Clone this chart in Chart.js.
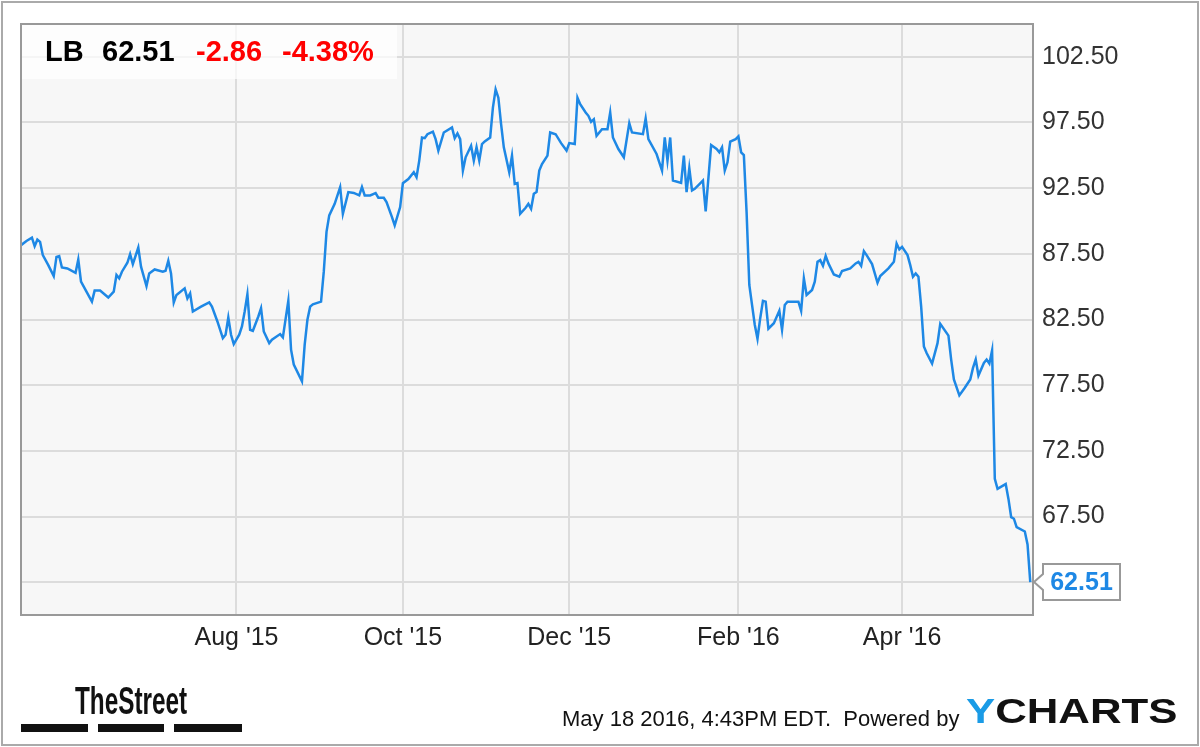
<!DOCTYPE html>
<html>
<head>
<meta charset="utf-8">
<title>LB price chart</title>
<script src="https://cdn.jsdelivr.net/npm/chart.js@4.4.1/dist/chart.umd.min.js"></script>
<style>
  html, body { margin: 0; padding: 0; background: #fff; }
  #wrap { width: 1200px; height: 747px; }
</style>
</head>
<body>
<div id="wrap"><canvas id="c" width="1200" height="747"></canvas></div>
<script>
// LB daily close (May 2015 - May 2016)
const dates = [
  '2015-05-14','2015-05-16','2015-05-18','2015-05-19','2015-05-20','2015-05-21','2015-05-22','2015-05-24','2015-05-26','2015-05-27',
  '2015-05-28','2015-05-29','2015-05-31','2015-06-03','2015-06-04','2015-06-05','2015-06-07','2015-06-09','2015-06-10','2015-06-12',
  '2015-06-15','2015-06-17','2015-06-18','2015-06-19','2015-06-20','2015-06-22','2015-06-23','2015-06-24','2015-06-26','2015-06-27',
  '2015-06-29','2015-06-30','2015-07-02','2015-07-05','2015-07-06','2015-07-07','2015-07-08','2015-07-09','2015-07-10','2015-07-13',
  '2015-07-14','2015-07-15','2015-07-16','2015-07-19','2015-07-22','2015-07-23','2015-07-25','2015-07-27','2015-07-28','2015-07-29',
  '2015-07-30','2015-07-31','2015-08-02','2015-08-03','2015-08-04','2015-08-05','2015-08-06','2015-08-07','2015-08-09','2015-08-10',
  '2015-08-11','2015-08-13','2015-08-14','2015-08-17','2015-08-18','2015-08-20','2015-08-21','2015-08-22','2015-08-25','2015-08-26',
  '2015-08-27','2015-08-28','2015-08-29','2015-09-01','2015-09-02','2015-09-03','2015-09-04','2015-09-06','2015-09-08','2015-09-09',
  '2015-09-11','2015-09-13','2015-09-15','2015-09-16','2015-09-17','2015-09-19','2015-09-21','2015-09-22','2015-09-24','2015-09-25',
  '2015-09-27','2015-09-28','2015-09-30','2015-10-01','2015-10-03','2015-10-05','2015-10-06','2015-10-07','2015-10-08','2015-10-09',
  '2015-10-10','2015-10-12','2015-10-13','2015-10-14','2015-10-16','2015-10-19','2015-10-20','2015-10-21','2015-10-22','2015-10-23',
  '2015-10-24','2015-10-26','2015-10-27','2015-10-28','2015-10-29','2015-10-30','2015-10-31','2015-11-02','2015-11-03','2015-11-04',
  '2015-11-05','2015-11-06','2015-11-07','2015-11-09','2015-11-10','2015-11-11','2015-11-12','2015-11-13','2015-11-15','2015-11-16',
  '2015-11-17','2015-11-18','2015-11-19','2015-11-20','2015-11-21','2015-11-23','2015-11-24','2015-11-26','2015-11-28','2015-11-30',
  '2015-12-01','2015-12-03','2015-12-04','2015-12-05','2015-12-07','2015-12-08','2015-12-09','2015-12-10','2015-12-11','2015-12-13',
  '2015-12-15','2015-12-16','2015-12-17','2015-12-19','2015-12-21','2015-12-23','2015-12-24','2015-12-28','2015-12-29','2015-12-30',
  '2016-01-02','2016-01-04','2016-01-05','2016-01-06','2016-01-07','2016-01-08','2016-01-11','2016-01-12','2016-01-13','2016-01-14',
  '2016-01-15','2016-01-16','2016-01-19','2016-01-20','2016-01-22','2016-01-24','2016-01-25','2016-01-26','2016-01-27','2016-01-28',
  '2016-01-29','2016-01-31','2016-02-01','2016-02-02','2016-02-03','2016-02-04','2016-02-05','2016-02-06','2016-02-07','2016-02-08',
  '2016-02-09','2016-02-10','2016-02-11','2016-02-12','2016-02-14','2016-02-16','2016-02-17','2016-02-18','2016-02-19','2016-02-23',
  '2016-02-24','2016-02-25','2016-02-26','2016-02-28','2016-02-29','2016-03-01','2016-03-02','2016-03-03','2016-03-04','2016-03-05',
  '2016-03-07','2016-03-09','2016-03-10','2016-03-13','2016-03-15','2016-03-16','2016-03-17','2016-03-18','2016-03-19','2016-03-21',
  '2016-03-22','2016-03-23','2016-03-24','2016-03-27','2016-03-29','2016-03-30','2016-03-31','2016-04-01','2016-04-03','2016-04-04',
  '2016-04-05','2016-04-06','2016-04-07','2016-04-08','2016-04-09','2016-04-10','2016-04-12','2016-04-14','2016-04-15','2016-04-18',
  '2016-04-19','2016-04-20','2016-04-22','2016-04-24','2016-04-26','2016-04-27','2016-04-28','2016-04-29','2016-05-01','2016-05-02',
  '2016-05-03','2016-05-04','2016-05-05','2016-05-06','2016-05-08','2016-05-09','2016-05-10','2016-05-11','2016-05-12','2016-05-13',
  '2016-05-16','2016-05-17','2016-05-18'
];
const closes = [
  88.16, 88.48, 88.73, 88.08, 88.58, 88.41, 87.40, 86.64, 85.81, 87.27,
  87.33, 86.46, 86.39, 86.06, 87.07, 85.38, 84.62, 83.86, 84.70, 84.70,
  84.17, 84.62, 85.89, 85.63, 86.14, 86.82, 87.48, 86.72, 87.98, 86.52,
  85.05, 86.01, 86.31, 86.14, 86.21, 86.97, 86.01, 83.79, 84.37, 84.87,
  84.11, 84.49, 83.11, 83.48, 83.81, 83.48, 82.35, 81.08, 81.34, 82.65,
  81.34, 80.63, 81.34, 81.97, 83.11, 84.42, 81.72, 81.64, 82.73, 83.36,
  81.59, 80.70, 80.96, 81.39, 81.14, 83.92, 80.20, 79.07, 77.80, 80.58,
  82.48, 83.48, 83.66, 83.86, 86.14, 89.17, 90.43, 91.31, 92.58, 90.55,
  92.20, 92.14, 91.95, 92.58, 91.95, 91.95, 92.12, 91.77, 91.77, 91.44,
  90.30, 89.67, 91.06, 92.88, 93.20, 93.71, 93.33, 94.60, 96.36, 96.31,
  96.61, 96.80, 96.23, 95.36, 96.74, 97.12, 96.31, 96.67, 96.23, 93.84,
  94.85, 95.73, 94.60, 95.61, 94.60, 95.86, 96.06, 96.36, 98.64, 100.02,
  99.39, 97.37, 95.61, 93.71, 94.98, 92.83, 92.88, 90.55, 91.01, 91.31,
  90.93, 92.07, 92.20, 93.84, 94.34, 94.98, 96.74, 96.61, 95.93, 95.36,
  95.93, 95.86, 99.39, 98.89, 98.26, 98.01, 97.55, 97.75, 96.49, 96.99,
  96.99, 98.26, 96.36, 95.48, 94.85, 97.45, 96.74, 96.61, 97.80, 96.23,
  95.10, 93.84, 96.36, 94.60, 96.36, 93.08, 92.90, 94.98, 92.20, 94.02,
  92.33, 92.45, 93.08, 90.73, 95.78, 95.48, 95.23, 95.61, 93.84, 94.47,
  96.04, 96.23, 96.44, 95.23, 95.02, 90.68, 85.13, 83.61, 82.10, 81.04,
  82.60, 83.92, 83.86, 81.80, 82.22, 83.16, 81.72, 83.61, 83.86, 83.86,
  83.16, 85.63, 84.37, 84.75, 85.38, 86.89, 87.02, 86.59, 87.35, 86.77,
  85.93, 85.76, 86.19, 86.39, 86.77, 86.89, 86.59, 87.70, 87.40, 86.72,
  86.01, 85.30, 85.81, 86.39, 86.89, 88.28, 87.83, 88.03, 87.40, 86.64,
  85.76, 86.01, 85.76, 83.48, 80.45, 79.95, 79.14, 80.70, 82.17, 81.27,
  79.45, 77.93, 76.72, 77.30, 77.93, 78.81, 79.45, 78.23, 79.19, 79.45,
  79.14, 80.15, 70.36, 69.60, 69.85, 69.98, 68.84, 67.45, 67.33, 66.69,
  66.36, 65.37, 62.51
];

// axes
const X_MIN = '2015-05-14';
const X_MAX = '2016-05-19';
const monthTicks = ['2015-08-01', '2015-10-01', '2015-12-01', '2016-02-01', '2016-04-01'];
const monthLabels = ["Aug '15", "Oct '15", "Dec '15", "Feb '16", "Apr '16"];
const yTicks = [62.5, 67.5, 72.5, 77.5, 82.5, 87.5, 92.5, 97.5, 102.5];

// header
const ticker = 'LB';
const lastPrice = '62.51';
const change = '-2.86';
const changePct = '-4.38%';
const footnote = 'May 18 2016, 4:43PM EDT.  Powered by';

const FONT = "'Liberation Sans', Arial, sans-serif";
const BLUE = '#1e88e5';

function dayOf(s) { return Date.parse(s + 'T00:00:00Z') / 86400000; }

function scaledText(ctx, txt, x, y, font, color, sx) {
  ctx.save();
  ctx.font = font;
  ctx.fillStyle = color;
  ctx.textBaseline = 'alphabetic';
  ctx.translate(x, y);
  ctx.scale(sx, 1);
  ctx.fillText(txt, 0, 0);
  ctx.restore();
}

const decor = {
  id: 'decor',
  beforeDraw(chart) {
    const { ctx, chartArea: a } = chart;
    ctx.save();
    ctx.fillStyle = '#fff';
    ctx.fillRect(0, 0, chart.width, chart.height);
    ctx.strokeStyle = '#aaa';
    ctx.lineWidth = 2;
    ctx.strokeRect(2, 2, chart.width - 4, chart.height - 4);
    ctx.fillStyle = '#f7f7f7';
    ctx.fillRect(a.left, a.top, a.right - a.left, a.bottom - a.top);
    ctx.restore();
  },
  beforeDatasetsDraw(chart) {
    const { ctx, chartArea: a } = chart;
    ctx.save();
    ctx.fillStyle = 'rgba(255,255,255,0.7)';
    ctx.fillRect(a.left, a.top, 376, 55);
    ctx.restore();
  },
  afterDraw(chart) {
    const { ctx, chartArea: a } = chart;
    const yS = chart.scales.y;
    ctx.save();
    // plot frame
    ctx.strokeStyle = '#999';
    ctx.lineWidth = 2;
    ctx.strokeRect(a.left, a.top, a.right - a.left, a.bottom - a.top);

    // header quote
    ctx.textBaseline = 'alphabetic';
    ctx.font = 'bold 29px ' + FONT;
    ctx.fillStyle = '#000';
    ctx.fillText(ticker, 45, 61);
    ctx.fillText(lastPrice, 102, 61);
    ctx.fillStyle = '#f00';
    ctx.fillText(change, 196, 61);
    ctx.fillText(changePct, 282, 61);

    // last value flag
    const yl = yS.getPixelForValue(closes[closes.length - 1]);
    const bx = 1043, bw = 77, bh = 36;
    ctx.beginPath();
    ctx.moveTo(bx, yl - bh / 2);
    ctx.lineTo(bx + bw, yl - bh / 2);
    ctx.lineTo(bx + bw, yl + bh / 2);
    ctx.lineTo(bx, yl + bh / 2);
    ctx.lineTo(bx, yl + 8);
    ctx.lineTo(a.right + 1, yl);
    ctx.lineTo(bx, yl - 8);
    ctx.closePath();
    ctx.fillStyle = '#fff';
    ctx.fill();
    ctx.strokeStyle = '#999';
    ctx.lineWidth = 2;
    ctx.stroke();
    ctx.font = 'bold 25px ' + FONT;
    ctx.fillStyle = BLUE;
    ctx.textAlign = 'center';
    ctx.textBaseline = 'middle';
    ctx.fillText(lastPrice, bx + bw / 2, yl + 1);
    ctx.restore();

    // footer
    scaledText(ctx, 'TheStreet', 75, 714, 'bold 38px ' + FONT, '#111', 0.64);
    ctx.fillStyle = '#111';
    ctx.fillRect(21, 724, 67, 8);
    ctx.fillRect(98, 724, 66, 8);
    ctx.fillRect(174, 724, 68, 8);
    scaledText(ctx, footnote, 562, 726, '22px ' + FONT, '#111', 1);
    scaledText(ctx, 'Y', 966, 723, 'bold 35px ' + FONT, '#1a9be6', 1.25);
    ctx.save();
    ctx.font = 'bold 35px ' + FONT;
    const wy = ctx.measureText('Y').width * 1.25;
    ctx.restore();
    scaledText(ctx, 'CHARTS', 966 + wy, 723, 'bold 35px ' + FONT, '#111', 1.25);
  }
};

new Chart(document.getElementById('c'), {
  type: 'line',
  data: {
    datasets: [{
      label: 'LB',
      data: dates.map((d, i) => ({ x: dayOf(d), y: closes[i] })),
      borderColor: BLUE,
      borderWidth: 2.5,
      pointRadius: 0,
      tension: 0,
      fill: false,
    }],
  },
  options: {
    responsive: false,
    animation: false,
    devicePixelRatio: 1,
    layout: { padding: { left: 21, top: 21, right: 0, bottom: 0 } },
    plugins: { legend: { display: false }, tooltip: { enabled: false } },
    scales: {
      x: {
        type: 'linear',
        min: dayOf(X_MIN), max: dayOf(X_MAX),
        afterBuildTicks: s => { s.ticks = monthTicks.map(d => ({ value: dayOf(d) })); },
        afterFit: s => { s.height = 132; },
        grid: { color: '#dcdcdc', lineWidth: 2, drawTicks: false },
        border: { display: false },
        ticks: {
          autoSkip: false, maxRotation: 0, padding: 8, color: '#222',
          font: { family: FONT, size: 25 },
          callback: (v, i) => monthLabels[i],
        },
      },
      y: {
        position: 'right',
        min: 60, max: 105,
        afterBuildTicks: s => { s.ticks = yTicks.map(v => ({ value: v })); },
        afterFit: s => { s.width = 167; },
        grid: { color: '#dcdcdc', lineWidth: 2, drawTicks: false },
        border: { display: false },
        ticks: {
          padding: 9, color: '#333',
          font: { family: FONT, size: 25 },
          callback: v => v.toFixed(2),
        },
      },
    },
  },
  plugins: [decor],
});
</script>
</body>
</html>
